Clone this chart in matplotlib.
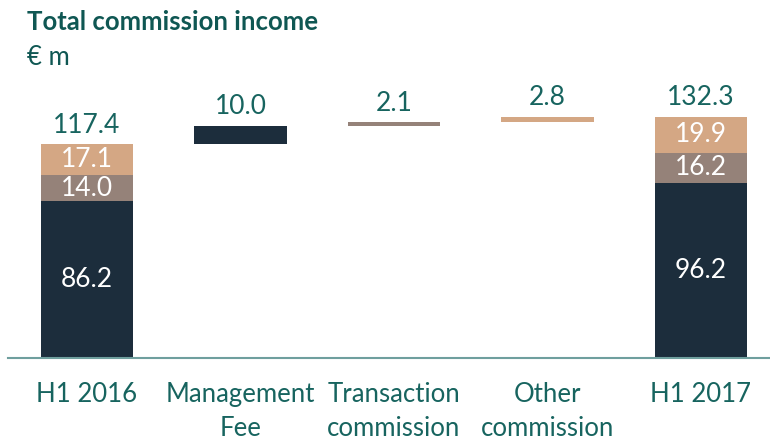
import numpy as np
import matplotlib
matplotlib.use("Agg")
import matplotlib.pyplot as plt

plt.rcParams['font.family'] = ['Lato', 'DejaVu Sans']

categories = ["H1 2016", "Management\nFee", "Transaction\ncommission", "Other\ncommission", "H1 2017"]
# stacked totals (management fee, transaction, other)
h1_2016 = [86.2, 14.0, 17.1]
h1_2017 = [96.2, 16.2, 19.9]
changes = [10.0, 2.1, 2.8]
totals = [117.4, 132.3]

c_mgmt = "#1c2d3c"
c_trans = "#958279"
c_other = "#d4a784"
c_text = "#17645f"
c_axis = "#6f9f9e"

fig = plt.figure(figsize=(7.7, 4.4), dpi=100)
ax = fig.add_axes([0.0104, 0.1864, 0.9896, 0.58])

w = 0.6
seg_cols = [c_mgmt, c_trans, c_other]
fs = 19

# start and end bars
for xi, vals, tot in [(0, h1_2016, totals[0]), (4, h1_2017, totals[1])]:
    bottom = 0
    for v, c in zip(vals, seg_cols):
        ax.bar(xi, v, w, bottom=bottom, color=c)
        ax.text(xi, bottom + v / 2, f"{v:.1f}", ha="center", va="center",
                color="white", fontsize=fs)
        bottom += v
    ax.text(xi, tot + 3.5, f"{tot:.1f}", ha="center", va="bottom",
            color=c_text, fontsize=fs)

# floating bars
level = totals[0]
for i, (v, c) in enumerate(zip(changes, seg_cols)):
    xi = i + 1
    ax.bar(xi, v, w, bottom=level, color=c)
    ax.text(xi, level + v + 3.5, f"{v:.1f}", ha="center", va="bottom",
            color=c_text, fontsize=fs)
    level += v

ax.set_xlim(-0.515, 4.45)
ax.set_ylim(0, 140)
ax.set_yticks([])
ax.set_xticks(range(5))
ax.set_xticklabels(categories, fontsize=18.5, color=c_text, linespacing=1.45)
ax.tick_params(axis="x", length=0, pad=17)
for s in ["top", "right", "left"]:
    ax.spines[s].set_visible(False)
ax.spines["bottom"].set_color(c_axis)
ax.spines["bottom"].set_linewidth(1.5)

fig.text(0.035, 0.95, "Total commission income", fontsize=18.5, fontweight="bold",
         color="#0f5753", va="center")
fig.text(0.035, 0.87, "€ m", fontsize=18.5, color="#0f5753", va="center")

fig.savefig("out.png", dpi=100)
